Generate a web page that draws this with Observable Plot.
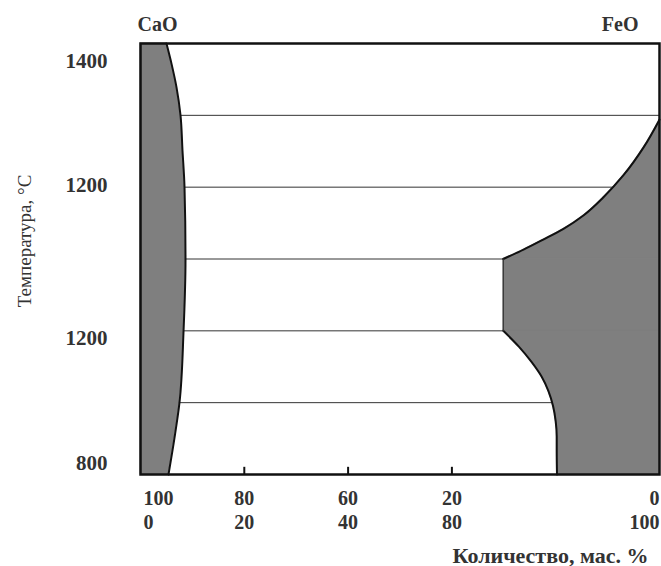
<!DOCTYPE html>
<html>
<head>
<meta charset="utf-8">
<script src="https://cdn.jsdelivr.net/npm/d3@7"></script>
<script src="https://cdn.jsdelivr.net/npm/@observablehq/plot@0.6"></script>
<style>
  html, body { margin: 0; padding: 0; background: #fff; }
</style>
</head>
<body>
<div id="chart"></div>
<script>
// ---- data ----
const components = ["CaO", "FeO"];
const xTicks = [20, 40, 60];
const xTickLabels = ["80\n20", "60\n40", "20\n80"];
const xEndLabels = ["100\n0", "0\n100"];
const yTicks = [1375, 1202, 989, 815];
const yTickLabels = ["1400", "1200", "1200", "800"];
const isotherms = [900, 1000, 1100, 1200, 1300];
const xTitle = "Количество, мас. %";
const yTitle = "Температура, °С";

// CaO-rich solid solution boundary (x = FeO %, t = temperature)
const leftX = [5.0, 5.97, 6.94, 7.71, 8.09, 8.48, 8.67, 8.29, 7.51, 6.55, 5.39];
const leftT = [1400, 1372, 1339, 1300, 1251, 1200, 1100, 999, 900, 851, 800];
// FeO-rich region boundary
const rightUpperX = [100, 96.9, 93.1, 89.2, 85.4, 81.5, 77.6, 73.8, 69.9];
const rightUpperT = [1294, 1255, 1217, 1186, 1161, 1142, 1127, 1113, 1100];
const rightStepX = [69.9, 69.9];
const rightStepT = [1100, 1000];
const rightLowerX = [69.9, 72.9, 75.3, 77.3, 78.6, 79.5, 80.0, 80.2, 80.2, 80.25];
const rightLowerT = [1000, 978, 957, 936, 916, 895, 874, 853, 832, 800];

// ---- tables ----
const leftData = leftX.map((x, i) => ({x, t: leftT[i]}));
const rightData = [
  ...rightUpperX.map((x, i) => ({x, t: rightUpperT[i], part: "upper"})),
  ...rightStepX.map((x, i) => ({x, t: rightStepT[i], part: "step"})),
  ...rightLowerX.map((x, i) => ({x, t: rightLowerT[i], part: "lower"}))
];

const fill = "#7f7f7f";
const ink = "#111";
const textInk = "#333";
const font = "'Liberation Serif', 'Times New Roman', serif";
const curve = "monotone-y";

const plot = Plot.plot({
  width: 661,
  height: 566,
  marginLeft: 140,
  marginRight: 2,
  marginTop: 43,
  marginBottom: 92,
  x: {domain: [0, 100], axis: null},
  y: {domain: [800, 1400], axis: null},
  style: {fontFamily: font, background: "#fff", overflow: "visible"},
  marks: [
    Plot.ruleY(isotherms, {stroke: "#333", strokeWidth: 1}),
    Plot.areaX(leftData, {x1: 0, x2: "x", y: "t", fill, stroke: fill, strokeWidth: 0.5, curve}),
    Plot.areaX(rightData, {x1: "x", x2: 100, y: "t", z: "part", fill, stroke: fill, strokeWidth: 0.5, curve}),
    Plot.line(leftData, {x: "x", y: "t", stroke: ink, strokeWidth: 2, curve}),
    Plot.line(rightData.filter(d => d.part !== "step"), {x: "x", y: "t", z: "part", stroke: ink, strokeWidth: 2, curve}),
    Plot.line(rightData.filter(d => d.part === "step"), {x: "x", y: "t", stroke: "#333", strokeWidth: 1.2}),
    Plot.ruleX(xTicks, {y1: 800, y2: 810, stroke: ink, strokeWidth: 2}),
    Plot.frame({stroke: ink, strokeWidth: 2.5}),
    // component labels
    Plot.text([components[0]], {text: d => d, frameAnchor: "top-left", textAnchor: "start", lineAnchor: "middle", dx: -3, dy: -19, fontSize: 20, fontWeight: "bold", fill: textInk}),
    Plot.text([components[1]], {text: d => d, frameAnchor: "top-right", textAnchor: "end", lineAnchor: "middle", dx: -21, dy: -19, fontSize: 20, fontWeight: "bold", fill: textInk}),
    // x tick labels
    Plot.text(xTicks, {x: d => d, text: (d, i) => xTickLabels[i], frameAnchor: "bottom", textAnchor: "middle", lineAnchor: "middle", lineHeight: 1.2, dy: 35, fontSize: 20, fontWeight: "bold", fill: textInk}),
    Plot.text([xEndLabels[0]], {text: d => d, frameAnchor: "bottom-left", textAnchor: "start", lineAnchor: "middle", lineHeight: 1.2, dx: 3, dy: 35, fontSize: 20, fontWeight: "bold", fill: textInk}),
    Plot.text([xEndLabels[1]], {text: d => d, frameAnchor: "bottom-right", textAnchor: "end", lineAnchor: "middle", lineHeight: 1.2, dx: 0, dy: 35, fontSize: 20, fontWeight: "bold", fill: textInk}),
    // y tick labels
    Plot.text(yTicks, {y: d => d, text: (d, i) => yTickLabels[i], frameAnchor: "left", textAnchor: "end", lineAnchor: "middle", dx: -33, fontSize: 21, fontWeight: "bold", fill: textInk}),
    // axis titles
    Plot.text([yTitle], {text: d => d, frameAnchor: "left", textAnchor: "middle", lineAnchor: "middle", rotate: -90, dx: -116, dy: -18, fontSize: 19, fill: textInk}),
    Plot.text([xTitle], {text: d => d, frameAnchor: "bottom-right", textAnchor: "end", lineAnchor: "middle", dx: -11, dy: 81, fontSize: 22, fontWeight: "bold", fill: textInk})
  ]
});

document.getElementById("chart").appendChild(plot);
</script>
</body>
</html>
